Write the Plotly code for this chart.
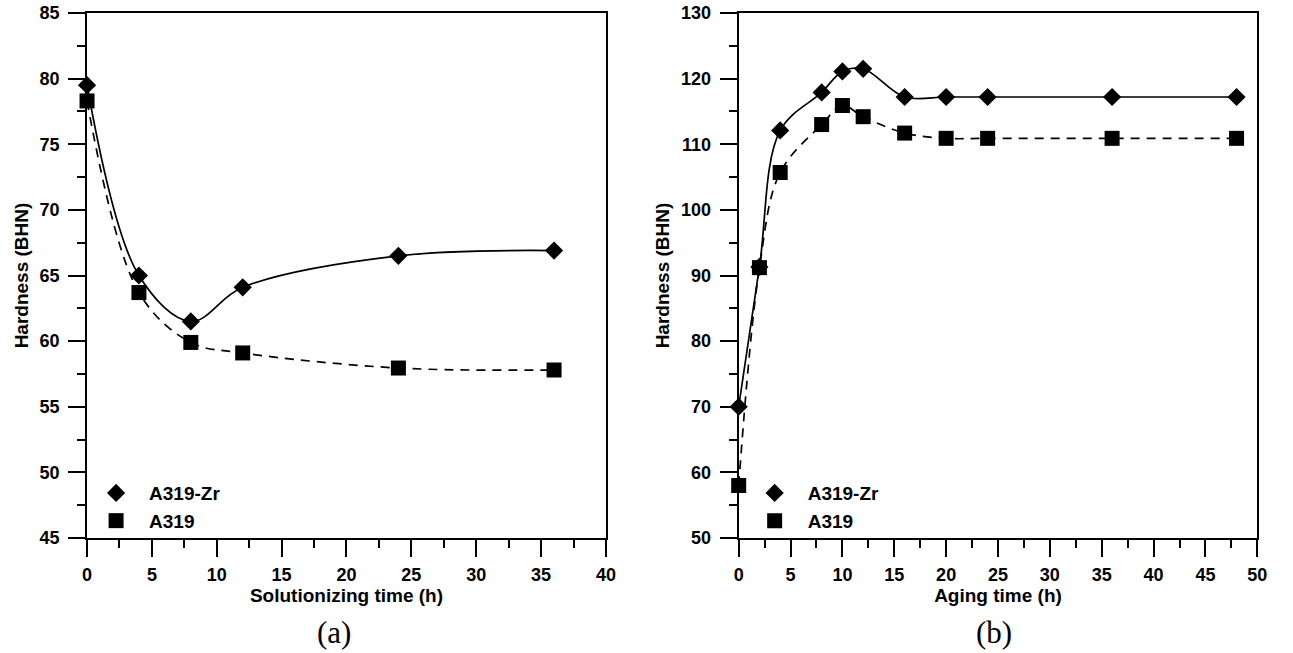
import plotly.graph_objects as go

# ---- data ----
sol_time = [0, 4, 8, 12, 24, 36]
sol_zr = [79.5, 65.0, 61.5, 64.1, 66.5, 66.9]
sol_a319 = [78.3, 63.7, 59.9, 59.1, 57.95, 57.8]

age_time = [0, 2, 4, 8, 10, 12, 16, 20, 24, 36, 48]
age_zr = [70.0, 91.3, 112.1, 117.9, 121.1, 121.5, 117.2, 117.2, 117.2, 117.2, 117.2]
age_a319 = [58.0, 91.2, 105.7, 113.0, 115.9, 114.2, 111.7, 110.9, 110.9, 110.9, 110.9]

series_names = ["A319-Zr", "A319"]
x_titles = ["Solutionizing time (h)", "Aging time (h)"]
y_title = "Hardness (BHN)"
panel_labels = ["(a)", "(b)"]

SANS = "Liberation Sans, Arial, sans-serif"
SERIF = "Liberation Serif, Times New Roman, serif"

fig = go.Figure()

def add_panel(xs, zr, a3, xa, ya, legend):
    # smooth curves
    fig.add_trace(go.Scatter(x=xs, y=zr, mode="lines", line=dict(color="black", width=1.7, shape="spline"),
                             xaxis=xa, yaxis=ya, showlegend=False, hoverinfo="skip"))
    fig.add_trace(go.Scatter(x=xs, y=a3, mode="lines",
                             line=dict(color="black", width=1.7, shape="spline", dash="9px,7px"),
                             xaxis=xa, yaxis=ya, showlegend=False, hoverinfo="skip"))
    # markers
    fig.add_trace(go.Scatter(x=xs, y=zr, mode="markers", name=series_names[0],
                             marker=dict(symbol="diamond", size=14, color="black"),
                             xaxis=xa, yaxis=ya, legend=legend, cliponaxis=False))
    fig.add_trace(go.Scatter(x=xs, y=a3, mode="markers", name=series_names[1],
                             marker=dict(symbol="square", size=15, color="black"),
                             xaxis=xa, yaxis=ya, legend=legend, cliponaxis=False))

add_panel(sol_time, sol_zr, sol_a319, "x", "y", "legend")
add_panel(age_time, age_zr, age_a319, "x2", "y2", "legend2")

tickfont = dict(family=SANS, size=18, color="black", weight="bold")
titlefont = dict(family=SANS, size=19, color="black", weight="bold")

def main_axis(rng, dtick, mdtick, domain=None, anchor=None, title=None, standoff=None, lblpad=0):
    d = dict(range=rng, dtick=dtick, tick0=rng[0], ticks="outside", ticklen=17, tickwidth=2,
             tickcolor="black", showline=True, linewidth=2, linecolor="black", mirror=True,
             showgrid=False, zeroline=False, tickfont=tickfont, layer="below traces",
             ticklabelstandoff=lblpad,
             minor=dict(dtick=mdtick, tick0=rng[0], ticks="outside", ticklen=8, tickwidth=2,
                        tickcolor="black", showgrid=False),
             fixedrange=True)
    if domain is not None:
        d["domain"] = domain
    if anchor is not None:
        d["anchor"] = anchor
    if title is not None:
        d["title"] = dict(text=title, font=titlefont, standoff=standoff)
    return d

def mirror_axis(rng, dtick, mdtick, overlaying, side, anchor):
    return dict(range=rng, dtick=dtick, tick0=rng[0], ticks="inside", ticklen=18, tickwidth=2,
                tickcolor="black", showline=False, showgrid=False, zeroline=False,
                showticklabels=False, overlaying=overlaying, side=side, anchor=anchor,
                layer="below traces",
                minor=dict(dtick=mdtick, tick0=rng[0], ticks="inside", ticklen=9, tickwidth=2,
                           tickcolor="black", showgrid=False),
                fixedrange=True)

W, H = 1293, 653
dA = [83 / W, 608 / W]
dB = [742.3 / W, 1267 / W]

fig.update_layout(
    width=W, height=H,
    margin=dict(l=0, r=0, t=13, b=115),
    paper_bgcolor="white", plot_bgcolor="white",
    xaxis=main_axis([0, 40], 5, 2.5, domain=dA, anchor="y", title=x_titles[0], standoff=3, lblpad=2),
    yaxis=main_axis([45, 85], 5, 2.5, anchor="x", title=y_title, standoff=6, lblpad=5),
    xaxis2=main_axis([0, 50], 5, 2.5, domain=dB, anchor="y2", title=x_titles[1], standoff=3, lblpad=2),
    yaxis2=main_axis([50, 130], 10, 5, anchor="x2", title=y_title, standoff=6, lblpad=5),
    xaxis3=mirror_axis([0, 40], 5, 2.5, "x", "top", "y"),
    yaxis3=mirror_axis([45, 85], 5, 2.5, "y", "right", "x"),
    xaxis4=mirror_axis([0, 50], 5, 2.5, "x2", "top", "y2"),
    yaxis4=mirror_axis([50, 130], 10, 5, "y2", "right", "x2"),
    legend=dict(x=(83 - 4) / W, y=-0.004, xanchor="left", yanchor="bottom", bgcolor="rgba(0,0,0,0)",
                font=dict(family=SANS, size=19, color="black", weight="bold"),
                itemwidth=56, tracegroupgap=0),
    legend2=dict(x=(742.3 + 3) / W, y=-0.004, xanchor="left", yanchor="bottom", bgcolor="rgba(0,0,0,0)",
                 font=dict(family=SANS, size=19, color="black", weight="bold"),
                 itemwidth=56, tracegroupgap=0),
    annotations=[
        dict(text=panel_labels[0], x=333 / W, y=(538 - 632) / 525, xref="paper", yref="paper",
             showarrow=False, font=dict(family=SERIF, size=31, color="black"),
             xanchor="center", yanchor="middle"),
        dict(text=panel_labels[1], x=1001 / W, y=(538 - 632) / 525, xref="paper", yref="paper",
             showarrow=False, font=dict(family=SERIF, size=31, color="black"),
             xanchor="center", yanchor="middle"),
    ],
)

fig.write_html("out.html", config={"displayModeBar": False})
